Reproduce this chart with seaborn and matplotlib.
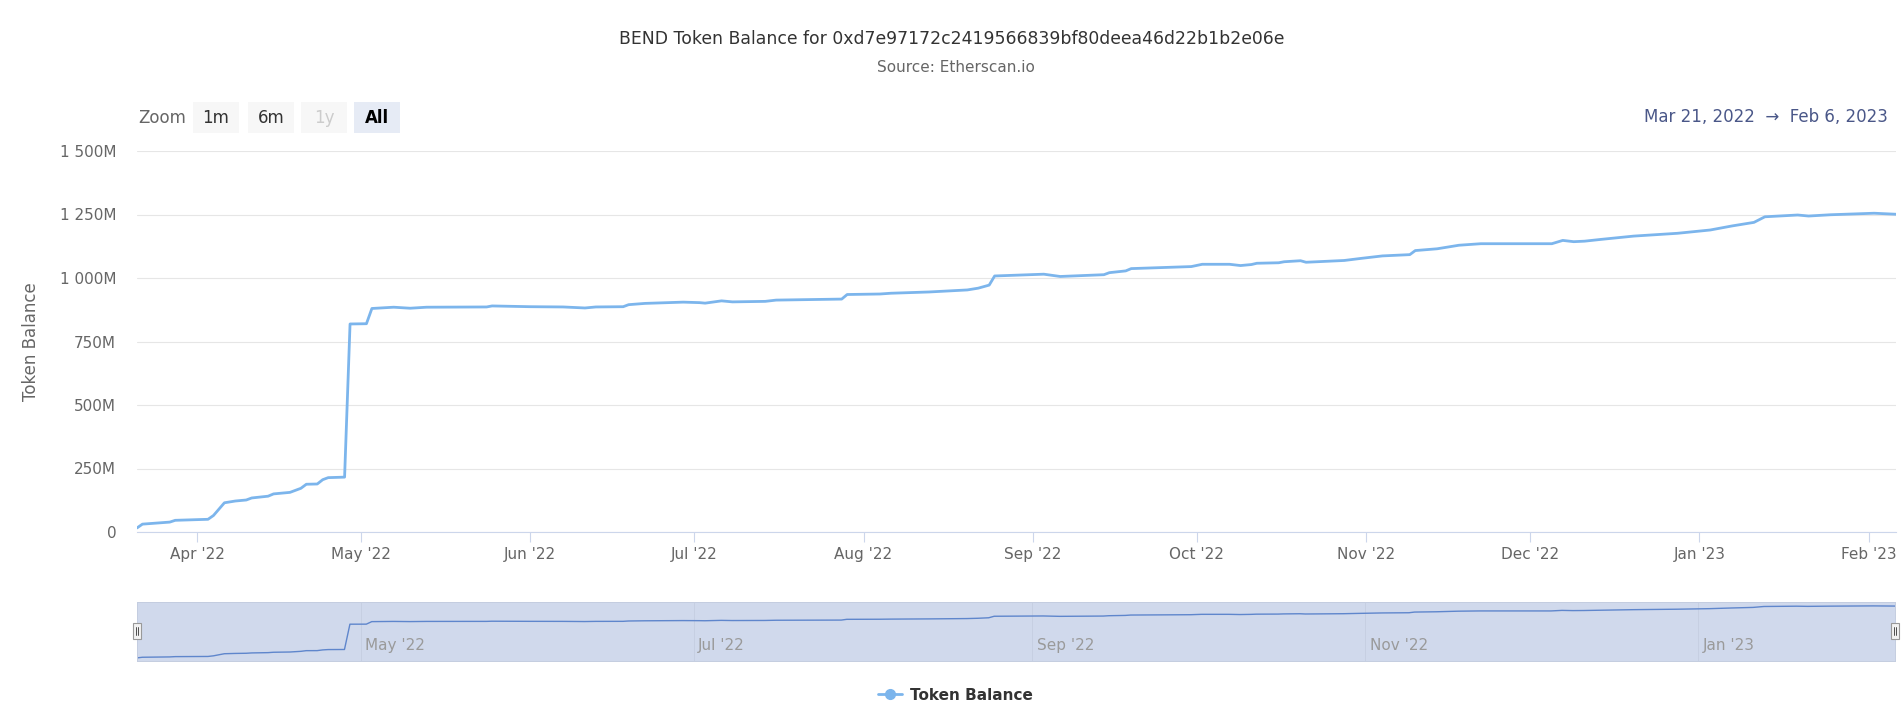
import matplotlib
matplotlib.use("Agg")
import matplotlib.pyplot as plt
import matplotlib.dates as mdates
from matplotlib.patches import Rectangle
from matplotlib.lines import Line2D
import seaborn as sns
import pandas as pd

# data (balance in millions of BEND)
dates = [
    "2022-03-21", "2022-03-22", "2022-03-27", "2022-03-28", "2022-04-03", "2022-04-04",
    "2022-04-06", "2022-04-08", "2022-04-10", "2022-04-11", "2022-04-14", "2022-04-15",
    "2022-04-18", "2022-04-20", "2022-04-21", "2022-04-23", "2022-04-24", "2022-04-25",
    "2022-04-28", "2022-04-29", "2022-05-02", "2022-05-03", "2022-05-07", "2022-05-10",
    "2022-05-13", "2022-05-24", "2022-05-25", "2022-06-01", "2022-06-07", "2022-06-11",
    "2022-06-13", "2022-06-18", "2022-06-19", "2022-06-22", "2022-06-29", "2022-07-02",
    "2022-07-03", "2022-07-06", "2022-07-08", "2022-07-14", "2022-07-16", "2022-07-28",
    "2022-07-29", "2022-08-04", "2022-08-06", "2022-08-13", "2022-08-20", "2022-08-22",
    "2022-08-24", "2022-08-25", "2022-09-03", "2022-09-06", "2022-09-14", "2022-09-15",
    "2022-09-18", "2022-09-19", "2022-09-30", "2022-10-02", "2022-10-07", "2022-10-09",
    "2022-10-11", "2022-10-12", "2022-10-16", "2022-10-17", "2022-10-20", "2022-10-21",
    "2022-10-28", "2022-10-31", "2022-11-04", "2022-11-08", "2022-11-09", "2022-11-10",
    "2022-11-14", "2022-11-18", "2022-11-22", "2022-12-05", "2022-12-07", "2022-12-09",
    "2022-12-11", "2022-12-14", "2022-12-20", "2022-12-28", "2023-01-03", "2023-01-07",
    "2023-01-11", "2023-01-13", "2023-01-19", "2023-01-21", "2023-01-25", "2023-02-02",
    "2023-02-06",
]
balance_m = [
    16, 31, 39, 46, 50, 65,
    115, 122, 126, 134, 141, 150,
    156, 172, 188, 189, 206, 214,
    216, 819, 820, 880, 885, 881,
    885, 886, 890, 887, 886, 882,
    886, 887, 895, 900, 905, 903,
    901, 910, 906, 908, 913, 917,
    935, 937, 940, 945, 953, 960,
    972, 1008, 1015, 1006, 1013, 1021,
    1028, 1037, 1045, 1054, 1054, 1049,
    1053, 1058, 1060, 1064, 1068, 1062,
    1069, 1077, 1087, 1091, 1092, 1108,
    1115, 1129, 1135, 1135, 1148, 1143,
    1145, 1152, 1165, 1176, 1189, 1205,
    1219, 1241, 1248, 1244, 1249, 1255,
    1251,
]

ytick_vals = [0, 250, 500, 750, 1000, 1250, 1500]
ytick_labels = ["0", "250M", "500M", "750M", "1 000M", "1 250M", "1 500M"]
nav_ticks = ["2022-05-01", "2022-07-01", "2022-09-01", "2022-11-01", "2023-01-01"]
nav_labels = ["May '22", "Jul '22", "Sep '22", "Nov '22", "Jan '23"]
zoom_buttons = ["1m", "6m", "1y", "All"]

title = "BEND Token Balance for 0xd7e97172c2419566839bf80deea46d22b1b2e06e"
subtitle = "Source: Etherscan.io"
range_text = "Mar 21, 2022  \u2192  Feb 6, 2023"
series_name = "Token Balance"

df = pd.DataFrame({"date": pd.to_datetime(dates), "balance": balance_m})

sns.set_theme(style="white")
plt.rcParams["font.family"] = ["DejaVu Sans"]

W, H = 1904, 721
fig = plt.figure(figsize=(W / 100, H / 100), dpi=100)
fig.patch.set_facecolor("white")


def fx(x):
    return x / W


def fy(y):
    return 1 - y / H


line_col = "#7cb5ec"

# main chart
ax = fig.add_axes([fx(137), fy(532), (1896 - 137) / W, (532 - 151) / H])
sns.lineplot(data=df, x="date", y="balance", ax=ax, color=line_col,
             linewidth=2, estimator=None)
ax.set_xlim(df["date"].iloc[0], df["date"].iloc[-1])
ax.set_ylim(0, 1500)
ax.set_yticks(ytick_vals)
ax.set_yticklabels(ytick_labels)
ax.yaxis.grid(True, color="#e6e6e6", linewidth=0.8)
ax.xaxis.grid(False)
ax.set_axisbelow(True)
for s in ["top", "right", "left"]:
    ax.spines[s].set_visible(False)
ax.spines["bottom"].set_color("#ccd6eb")
ax.spines["bottom"].set_linewidth(0.8)
ax.xaxis.set_major_locator(mdates.MonthLocator())
ax.xaxis.set_major_formatter(mdates.DateFormatter("%b '%y"))
ax.tick_params(axis="x", length=7.5, width=0.8, color="#ccd6eb",
               labelsize=11, labelcolor="#666666", pad=3, bottom=True)
ax.tick_params(axis="y", length=0, labelsize=11, labelcolor="#666666", pad=15)
ax.set_xlabel("")
ax.set_ylabel("Token Balance", fontsize=12, color="#666666")
ax.yaxis.set_label_coords(-0.055, 0.5)
ax.set_facecolor("white")

# navigator
nav = fig.add_axes([fx(137), fy(661), (1895 - 137) / W, (661 - 602) / H])
nav.set_facecolor("#d0d9ec")
sns.lineplot(data=df, x="date", y="balance", ax=nav, color="#5f86cc",
             linewidth=1, estimator=None)
span = df["balance"].max() - df["balance"].min()
nav.set_ylim(df["balance"].min() - 0.06 * span, df["balance"].max() + 0.075 * span)
nav.set_xlim(df["date"].iloc[0], df["date"].iloc[-1])
nav.set_xticks(pd.to_datetime(nav_ticks))
nav.set_xticklabels([])
nav.set_yticks([])
nav.tick_params(length=0)
nav.xaxis.grid(True, color="#c6cfe2", linewidth=0.7)
nav.set_xlabel("")
nav.set_ylabel("")
for s in nav.spines.values():
    s.set_color("#c4cde0")
    s.set_linewidth(0.7)
for d, lbl in zip(pd.to_datetime(nav_ticks), nav_labels):
    nav.annotate(lbl, xy=(d, 0), xycoords=("data", "axes fraction"),
                 xytext=(3, 6), textcoords="offset points",
                 fontsize=11, color="#9a9a9a", ha="left", va="bottom")

# navigator handles
for hx in [137, 1895]:
    fig.patches.append(Rectangle((fx(hx - 4), fy(639)), 8 / W, 16 / H,
                                 transform=fig.transFigure, facecolor="#f2f2f2",
                                 edgecolor="#999999", linewidth=0.8, zorder=5))
    for dx in [-1.2, 1.2]:
        fig.lines.append(Line2D([fx(hx + dx), fx(hx + dx)], [fy(635), fy(627)],
                                transform=fig.transFigure, color="#333333",
                                linewidth=0.6, zorder=6))

# titles
fig.text(fx(952), fy(39), title, ha="center", va="center", fontsize=12.4, color="#333333")
fig.text(fx(956), fy(67), subtitle, ha="center", va="center", fontsize=11, color="#666666")

# range selector
fig.text(fx(138), fy(118), "Zoom", ha="left", va="center", fontsize=12, color="#666666")
btn_x = [193, 248, 301, 354]
for lbl, x0 in zip(zoom_buttons, btn_x):
    active = lbl == "All"
    disabled = lbl == "1y"
    fig.patches.append(Rectangle((fx(x0), fy(133)), 46 / W, 31 / H,
                                 transform=fig.transFigure,
                                 facecolor="#e6ebf5" if active else "#f7f7f7",
                                 edgecolor="none", zorder=2))
    fig.text(fx(x0 + 23), fy(118), lbl, ha="center", va="center", fontsize=12,
             color="#000000" if active else ("#cccccc" if disabled else "#333333"),
             fontweight="bold" if active else "normal", zorder=3)
fig.text(fx(1888), fy(117), range_text, ha="right", va="center", fontsize=12,
         color="#4a5788")

# legend
handle = Line2D([], [], color=line_col, linewidth=2, marker="o", markersize=7)
fig.legend(handles=[handle], labels=[series_name], loc="center",
           bbox_to_anchor=(fx(955), fy(695)), frameon=False, handlelength=1.6,
           handletextpad=0.5, prop={"weight": "bold", "size": 11},
           labelcolor="#333333")

fig.savefig("out.png", dpi=100, facecolor="white")
